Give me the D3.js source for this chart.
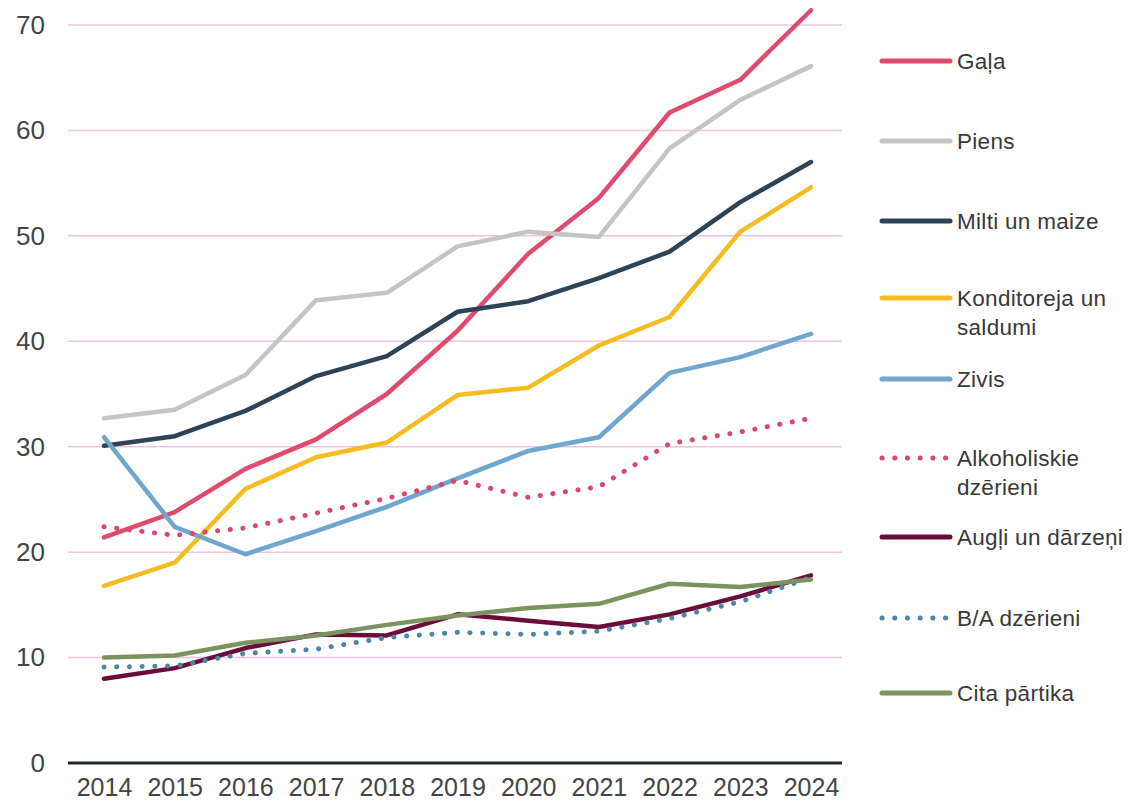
<!DOCTYPE html>
<html>
<head>
<meta charset="utf-8">
<script src="https://cdn.jsdelivr.net/npm/d3@7"></script>
<style>
  body { margin: 0; background: #fff; }
  text { font-family: "Liberation Sans", Arial, sans-serif; }
</style>
</head>
<body>
<div id="chart"></div>
<script>
// data
var years = [2014, 2015, 2016, 2017, 2018, 2019, 2020, 2021, 2022, 2023, 2024]
var yTicks = [0, 10, 20, 30, 40, 50, 60, 70]

var gala        = [21.4, 23.8, 27.9, 30.7, 35.0, 41.0, 48.3, 53.6, 61.7, 64.8, 71.4]
var piens       = [32.7, 33.5, 36.8, 43.9, 44.6, 49.0, 50.4, 49.9, 58.3, 62.9, 66.1]
var milti       = [30.1, 31.0, 33.4, 36.7, 38.6, 42.8, 43.8, 46.0, 48.5, 53.2, 57.0]
var konditoreja = [16.8, 19.0, 26.0, 29.0, 30.4, 34.9, 35.6, 39.6, 42.3, 50.4, 54.6]
var zivis       = [30.9, 22.4, 19.8, 22.0, 24.3, 27.0, 29.6, 30.9, 37.0, 38.5, 40.7]
var alko        = [22.4, 21.6, 22.3, 23.7, 25.1, 26.8, 25.2, 26.2, 30.3, 31.4, 32.7]
var augli       = [8.0, 9.0, 10.9, 12.2, 12.1, 14.1, 13.5, 12.9, 14.1, 15.8, 17.8]
var bezalko     = [9.1, 9.2, 10.4, 10.8, 11.9, 12.4, 12.2, 12.5, 13.7, 15.3, 17.6]
var cita        = [10.0, 10.2, 11.4, 12.1, 13.1, 14.0, 14.7, 15.1, 17.0, 16.7, 17.4]

var series = [
  { name: ["Gaļa"], values: gala, color: "#E04A6E", dotted: false },
  { name: ["Piens"], values: piens, color: "#C4C4C4", dotted: false },
  { name: ["Milti un maize"], values: milti, color: "#2F4356", dotted: false },
  { name: ["Konditoreja un", "saldumi"], values: konditoreja, color: "#F4BC1E", dotted: false },
  { name: ["Zivis"], values: zivis, color: "#6FA6CD", dotted: false },
  { name: ["Alkoholiskie", "dzērieni"], values: alko, color: "#D9466E", dotted: true },
  { name: ["Augļi un dārzeņi"], values: augli, color: "#6A0D3A", dotted: false },
  { name: ["B/A dzērieni"], values: bezalko, color: "#4B86A2", dotted: true },
  { name: ["Cita pārtika"], values: cita, color: "#7C9360", dotted: false }
]

var width = 1133
var height = 807

var svg = d3.select("#chart")
    .append("svg")
    .attr("width", width)
    .attr("height", height)

var x = d3.scaleLinear().domain([2014, 2024]).range([104, 811])
var y = d3.scaleLinear().domain([0, 70]).range([763, 25])

// gridlines
svg.append("g")
    .selectAll("line")
    .data(yTicks.filter(function (d) { return d > 0 }))
    .enter()
    .append("line")
    .attr("x1", 68).attr("x2", 842)
    .attr("y1", function (d) { return y(d) })
    .attr("y2", function (d) { return y(d) })
    .style("stroke", "#EEC5DE")
    .style("stroke-width", 1.5)

// y axis labels
var yAxis = svg.append("g")
    .attr("transform", "translate(60,0)")
    .call(d3.axisLeft(y).tickValues(yTicks).tickSize(0).tickPadding(15))
yAxis.select(".domain").remove()
yAxis.selectAll("text")
    .style("font-size", "26px")
    .style("fill", "#444")

// x axis
var xAxis = svg.append("g")
    .attr("transform", "translate(0," + y(0) + ")")
    .call(d3.axisBottom(x).tickValues(years).tickFormat(d3.format("d")).tickSize(0).tickPadding(15))
xAxis.select(".domain").remove()
xAxis.selectAll("text")
    .style("font-size", "25px")
    .style("fill", "#444")

svg.append("line")
    .attr("x1", 68).attr("x2", 842)
    .attr("y1", y(0)).attr("y2", y(0))
    .style("stroke", "#1E2B2A")
    .style("stroke-width", 3)

// lines
var line = d3.line()
    .x(function (d, i) { return x(years[i]) })
    .y(function (d) { return y(d) })

svg.append("g")
    .selectAll("path")
    .data(series)
    .enter()
    .append("path")
    .attr("d", function (d) { return line(d.values) })
    .style("fill", "none")
    .style("stroke", function (d) { return d.color })
    .style("stroke-width", function (d) { return d.dotted ? 5 : 4.5 })
    .style("stroke-linecap", "round")
    .style("stroke-linejoin", "round")
    .style("stroke-dasharray", function (d) { return d.dotted ? "0.1 12.6" : null })

// legend
var legendY = [61, 141, 221, 298, 379, 458, 537, 618, 693]
var legend = svg.append("g")
    .selectAll("g")
    .data(series)
    .enter()
    .append("g")
    .attr("transform", function (d, i) { return "translate(0," + legendY[i] + ")" })

legend.append("line")
    .attr("x1", 882).attr("x2", 950)
    .attr("y1", 0).attr("y2", 0)
    .style("stroke", function (d) { return d.color })
    .style("stroke-width", 5)
    .style("stroke-linecap", "round")
    .style("stroke-dasharray", function (d) { return d.dotted ? "0.1 12.6" : null })

legend.append("text")
    .attr("x", 957)
    .attr("y", 0)
    .style("font-size", "22.5px")
    .style("letter-spacing", "0.3px")
    .style("fill", "#383838")
    .selectAll("tspan")
    .data(function (d) { return d.name })
    .enter()
    .append("tspan")
    .attr("x", 957)
    .attr("dy", function (d, i) { return i === 0 ? "0.35em" : "1.3em" })
    .text(function (d) { return d })
</script>
</body>
</html>
